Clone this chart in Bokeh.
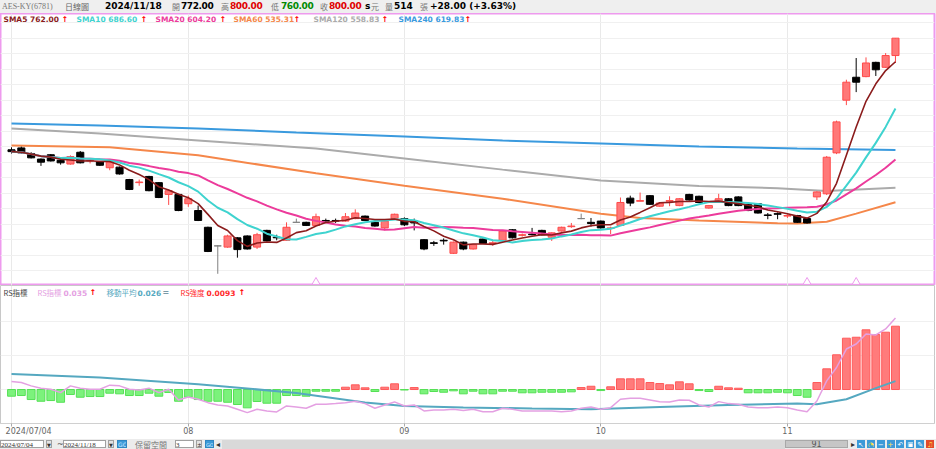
import numpy as np
import pandas as pd
from bokeh.plotting import figure
from bokeh.models import Range1d, FixedTicker, Grid, Label, Div, AllLabels
from bokeh.layouts import column
from bokeh.embed import file_html
from bokeh.resources import INLINE

# ---------------- data ----------------
STOCK = "AES-KY(6781)"
PERIOD_NAME = "日線圖"
FIRST_DATE = "2024/07/04"
LAST_DATE = "2024/11/18"
LAST_VOLUME = 514
BAR_COUNT_TEXT = "91"
MONTH_TICK_BARS = [18, 40, 60, 79]
MONTH_TICK_LABELS = ["08", "09", "10", "11"]

OPEN = [620, 623, 614, 605, 612, 603, 597, 616, 602, 601,
        591, 592, 572, 567, 577, 567, 548, 548, 533, 522,
        495, 465, 463, 478, 481, 463, 490, 479, 474, 503,
        503, 498, 506, 506, 505, 509, 513, 503, 494, 509,
        509, 505, 475, 470, 474, 453, 471, 460, 476, 469,
        474, 491, 482, 484, 490, 479, 489, 496, 509, 503,
        505, 493, 498, 542, 537, 546, 529, 537, 530, 548,
        545, 526, 536, 541, 544, 532, 533, 515, 517, 513,
        514, 509, 544, 549, 615, 700, 737, 738, 761, 753,
        772]
HIGH = [624, 625, 616, 606, 613, 606, 611, 618, 605, 602,
        601, 593, 573, 572, 578, 568, 556, 549, 546, 530,
        496, 466, 483, 479, 482, 486, 491, 483, 503, 509,
        504, 517, 509, 509, 518, 524, 514, 504, 506, 517,
        511, 509, 476, 473, 477, 472, 472, 468, 477, 473,
        490, 492, 485, 494, 491, 487, 496, 502, 517, 510,
        506, 496, 543, 546, 551, 547, 535, 545, 542, 549,
        546, 531, 549, 542, 545, 533, 534, 518, 519, 516,
        515, 510, 553, 610, 667, 733, 768, 769, 762, 776,
        800]
LOW = [614, 614, 606, 594, 601, 596, 596, 598, 598, 594,
       587, 580, 555, 562, 553, 542, 531, 521, 528, 505,
       455, 420, 462, 446, 459, 460, 472, 474, 473, 503,
       497, 497, 502, 502, 504, 508, 505, 496, 490, 508,
       497, 490, 458, 465, 467, 452, 458, 459, 468, 465,
       473, 477, 480, 482, 482, 473, 488, 494, 508, 496,
       493, 484, 497, 529, 537, 531, 528, 529, 529, 538,
       534, 525, 535, 529, 529, 521, 517, 508, 508, 510,
       502, 501, 539, 547, 613, 692, 713, 737, 739, 752,
       760]
CLOSE = [617, 615, 607, 600, 602, 599, 609, 599, 603, 595,
         600, 581, 556, 568, 554, 543, 554, 522, 541, 506,
         456, 465, 481, 459, 460, 483, 473, 478, 495, 503,
         498, 512, 505, 505, 512, 518, 506, 497, 505, 516,
         499, 502, 460, 469, 473, 471, 460, 467, 469, 470,
         489, 478, 483, 483, 483, 486, 495, 497, 509, 501,
         494, 494, 535, 534, 538, 532, 534, 538, 541, 539,
         535, 530, 541, 530, 530, 522, 518, 514, 516, 514,
         503, 502, 552, 608, 665, 729, 729, 760, 749, 772,
         800]

# long moving averages (bar index, value)
SMA60_BARS = [0, 10, 19, 31, 40, 50, 60, 64, 70, 78, 80, 83, 86, 90]
SMA60_VALS = [627.0, 624.0, 611.0, 582.0, 562.0, 541.0, 517.0, 510.0, 506.0, 501.6, 501.0, 504.0, 517.0, 535.31]
SMA120_BARS = [0, 9, 19, 31, 40, 50, 60, 70, 78, 83, 90]
SMA120_VALS = [654.4, 646.3, 635.0, 622.0, 606.0, 588.0, 570.5, 561.6, 558.0, 553.5, 558.83]
SMA240_BARS = [0, 9, 19, 29, 40, 50, 60, 70, 80, 90]
SMA240_VALS = [662.4, 659.2, 654.4, 647.9, 641.5, 635.0, 630.2, 625.3, 622.1, 619.83]

# relative strength panel
RS = [0.02594, 0.02579, 0.02531, 0.02497, 0.02482, 0.02432, 0.02531, 0.02497, 0.02482, 0.02482,
      0.02541, 0.02531, 0.02482, 0.02472, 0.02497, 0.02432, 0.02482, 0.02325, 0.02369, 0.02335,
      0.02285, 0.02252, 0.02237, 0.02188, 0.02139, 0.02188, 0.02164, 0.02149, 0.02237, 0.02222,
      0.02203, 0.02262, 0.02262, 0.02271, 0.02285, 0.02306, 0.02271, 0.02203, 0.02252, 0.02296,
      0.02237, 0.02252, 0.02164, 0.02178, 0.02178, 0.02188, 0.02170, 0.02188, 0.02153, 0.02153,
      0.02203, 0.02188, 0.02164, 0.02164, 0.02164, 0.02164, 0.02153, 0.02164, 0.02203, 0.02222,
      0.02188, 0.02212, 0.02335, 0.02350, 0.02350, 0.02325, 0.02300, 0.02296, 0.02325, 0.02321,
      0.02252, 0.02222, 0.02300, 0.02271, 0.02262, 0.02222, 0.02212, 0.02212, 0.02222, 0.02212,
      0.02178, 0.02153, 0.02310, 0.02604, 0.02800, 0.03070, 0.03144, 0.03291, 0.03276, 0.03364,
      0.03526]
RS_MA_BARS = [0, 9, 19, 29, 36, 40, 46, 53, 59, 66, 73, 80, 82, 85, 88, 90]
RS_MA_VALS = [0.02703, 0.02653, 0.02556, 0.02428, 0.02288, 0.02237, 0.02215, 0.02200, 0.02188,
              0.02222, 0.02252, 0.02271, 0.02263, 0.02335, 0.02497, 0.02600]
RS_HIST = [-0.00098, -0.00088, -0.00147, -0.00172, -0.00162, -0.00187, -0.00073, -0.00113, -0.00103, -0.00103,
           -0.00054, -0.00063, -0.00088, -0.00088, -0.00054, -0.00098, -0.00044, -0.00172, -0.00113, -0.00147,
           -0.00172, -0.00172, -0.00187, -0.00220, -0.00269, -0.00176, -0.00201, -0.00201, -0.00088, -0.00088,
           -0.00098, -0.00025, -0.00025, -0.00025, 0.00034, 0.00069, 0.00025, -0.00029, 0.00034, 0.00084,
           -0.00007, 0.00029, -0.00063, -0.00029, -0.00040, -0.00019, -0.00063, -0.00025, -0.00063, -0.00063,
           -0.00025, -0.00025, -0.00048, -0.00048, -0.00040, -0.00040, -0.00040, -0.00034, 0.00029, 0.00048,
           -0.00015, 0.00040, 0.00157, 0.00157, 0.00157, 0.00103, 0.00088, 0.00069, 0.00113, 0.00084,
           -0.00015, -0.00029, 0.00048, 0.00025, 0.00019, -0.00048, -0.00048, -0.00048, -0.00040, -0.00048,
           -0.00088, -0.00113, 0.00103, 0.00304, 0.00510, 0.00754, 0.00768, 0.00877, 0.00808, 0.00842,
           0.00930]
EVENT_BARS = [31, 81, 86]

# ---------------- derived ----------------
n = len(CLOSE)
idx = np.arange(n)
o = np.array(OPEN, float); h = np.array(HIGH, float); l = np.array(LOW, float); c = np.array(CLOSE, float)
cs = pd.Series(c)
sma5 = cs.rolling(5, min_periods=1).mean().values
sma10 = cs.rolling(10, min_periods=1).mean().values
sma20 = cs.rolling(20, min_periods=1).mean().values

UP_FILL, UP_LINE = "#ff7878", "#ff4a4a"
DN_FILL, DN_LINE = "#000000", "#000000"
FL_COL = "#808080"
body_fill = [UP_FILL if cc > oo else (DN_FILL if cc < oo else FL_COL) for oo, cc in zip(o, c)]
body_line = [UP_LINE if cc > oo else (DN_LINE if cc < oo else FL_COL) for oo, cc in zip(o, c)]

C_SMA5, C_SMA10, C_SMA20 = "#8b1c1c", "#3fd3cf", "#ec3b9b"
C_SMA60, C_SMA120, C_SMA240 = "#f5874a", "#ababab", "#3a9ade"
C_RS, C_MA, C_STR = "#e4a0e2", "#55a8c0", "#ff2a2a"

W = 936
YMIN, YMAX = 401.1, 839.8
XR = Range1d(-1.121, 93.974)
TICKS = [0] + MONTH_TICK_BARS

# ---------------- price panel ----------------
p = figure(width=W, height=272, x_range=XR, y_range=Range1d(YMIN, YMAX),
           x_axis_type=None, y_axis_type=None, output_backend="svg", toolbar_location=None,
           min_border=0, min_border_right=2, outline_line_color="#ee9aee", outline_line_width=2,
           background_fill_color="white", border_fill_color="white")
p.add_layout(Grid(dimension=0, ticker=FixedTicker(ticks=TICKS), grid_line_color="#e9e9e9"))
p.add_layout(Grid(dimension=1, ticker=FixedTicker(ticks=list(range(425, 826, 25))),
                  grid_line_color="#f0f0f0"))

p.line(SMA240_BARS, SMA240_VALS, line_color=C_SMA240, line_width=2)
p.line(SMA120_BARS, SMA120_VALS, line_color=C_SMA120, line_width=2)
p.line(SMA60_BARS, SMA60_VALS, line_color=C_SMA60, line_width=2)

p.segment(x0=idx, y0=l, x1=idx, y1=h, line_color=body_line, line_width=1)
p.vbar(x=idx, width=0.72, top=np.maximum(o, c), bottom=np.minimum(o, c),
       fill_color=body_fill, line_color=body_line, line_width=1)

p.line(idx, sma20, line_color=C_SMA20, line_width=2)
p.line(idx, sma10, line_color=C_SMA10, line_width=2)
p.line(idx, sma5, line_color=C_SMA5, line_width=1.6)

p.scatter(EVENT_BARS, [YMIN + 5.5] * len(EVENT_BARS), marker="triangle", size=8,
          fill_color="white", line_color="#ee9aee", line_width=1)

legend_items = [("SMA5", sma5[-1], C_SMA5, 3, 61),
                ("SMA10", sma10[-1], C_SMA10, 76, 140),
                ("SMA20", sma20[-1], C_SMA20, 155, 219),
                ("SMA60", SMA60_VALS[-1], C_SMA60, 233, 293),
                ("SMA120", SMA120_VALS[-1], C_SMA120, 313, 381),
                ("SMA240", SMA240_VALS[-1], C_SMA240, 398, 464)]
LY = 266.5
for name, val, col, x, ax in legend_items:
    p.add_layout(Label(x=x, y=LY, x_units="screen", y_units="screen", text=f"{name} {val:.2f}",
                       text_color=col, text_font="DejaVu Sans", text_font_style="bold",
                       text_font_size="7.5px", text_baseline="middle"))
    p.add_layout(Label(x=ax, y=LY, x_units="screen", y_units="screen", text="↑",
                       text_color="#ff0000", text_font="DejaVu Sans", text_font_style="bold",
                       text_font_size="8px", text_baseline="middle"))

# ---------------- RS panel ----------------
r = figure(width=W, height=153, x_range=XR, y_range=Range1d(0.01980, 0.04000),
           y_axis_type=None, x_axis_location="below", output_backend="svg", toolbar_location=None,
           min_border=0, min_border_right=2, outline_line_color="#c8c8c8", outline_line_width=1,
           background_fill_color="white", border_fill_color="white")
r.extra_y_ranges = {"hist": Range1d(-0.00499, 0.01528)}
ax = r.xaxis[0]
ax.ticker = FixedTicker(ticks=TICKS)
# first label sits to the right of its tick (as in the reference): leading no-break spaces
ax.major_label_overrides = {0: "\u00a0" * 2 + FIRST_DATE,
                            **{t: s for t, s in zip(MONTH_TICK_BARS, MONTH_TICK_LABELS)}}
ax.major_label_policy = AllLabels()
ax.minor_tick_line_color = None
ax.major_tick_in = 0
ax.major_tick_out = 3
ax.major_tick_line_color = "#aaaaaa"
ax.axis_line_color = "#d0d0d0"
ax.major_label_standoff = 0
ax.major_label_text_font = "DejaVu Sans"
ax.major_label_text_font_size = "8px"
ax.major_label_text_color = "#666666"
r.xgrid.ticker = FixedTicker(ticks=TICKS)
r.xgrid.grid_line_color = "#e9e9e9"
r.add_layout(Grid(dimension=1, ticker=FixedTicker(ticks=[0, 0.005, 0.01]), y_range_name="hist",
                  grid_line_color="#f0f0f0"))

hist = np.array(RS_HIST)
h_fill = ["#ff7b7b" if v > 0 else "#7cf27c" for v in hist]
h_line = ["#ff5a5a" if v > 0 else "#55e055" for v in hist]
r.vbar(x=idx, width=0.8, top=hist, bottom=0, y_range_name="hist",
       fill_color=h_fill, line_color=h_line, line_width=1)
r.line(RS_MA_BARS, RS_MA_VALS, line_color=C_MA, line_width=2)
r.line(idx, RS, line_color=C_RS, line_width=1.5)

RY = 131
rs_items = [("RS指標", "#444444", "normal", "Noto Sans CJK TC", "7.5px", 3),
            ("RS指標", C_RS, "normal", "Noto Sans CJK TC", "7.5px", 37),
            (f"{RS[-1]:.3f}", C_RS, "bold", "DejaVu Sans", "7.5px", 63),
            ("↑", "#ff0000", "bold", "DejaVu Sans", "8px", 89),
            ("移動平均", C_MA, "normal", "Noto Sans CJK TC", "7.5px", 106),
            (f"{RS_MA_VALS[-1]:.3f}", C_MA, "bold", "DejaVu Sans", "7.5px", 137),
            ("=", "#7a9aa8", "bold", "DejaVu Sans", "8px", 162),
            ("RS強度", C_STR, "normal", "Noto Sans CJK TC", "7.5px", 180),
            (f"{RS_HIST[-1]:.4f}", C_STR, "bold", "DejaVu Sans", "7.5px", 206),
            ("↑", "#ff0000", "bold", "DejaVu Sans", "8px", 238)]
for txt_, col, sty, fnt, fs, x in rs_items:
    r.add_layout(Label(x=x, y=RY, x_units="screen", y_units="screen", text=txt_, text_color=col,
                       text_font=fnt, text_font_style=sty, text_font_size=fs, text_baseline="middle"))

# ---------------- header ----------------
def span(x, text, color="#000", bold=False, font="DejaVu Sans", size=9, ls=0):
    w = "bold" if bold else "normal"
    return (f'<span style="position:absolute;left:{x}px;top:0px;line-height:13px;white-space:nowrap;'
            f'letter-spacing:{ls}px;font-family:\'{font}\';font-size:{size}px;color:{color};'
            f'font-weight:{w};">{text}</span>')

chg = c[-1] - c[-2]
pct = chg / c[-2] * 100
CJK = "Noto Sans CJK TC"
head_parts = [
    span(2, STOCK, "#777", False, "Liberation Serif", 8),
    span(65, PERIOD_NAME, "#666", False, CJK, 8),
    span(105, LAST_DATE, "#000", True),
    span(172, "開", "#777", False, CJK, 8), span(181, f"{o[-1]:.2f}", "#000", True, ls=-0.4),
    span(221, "高", "#777", False, CJK, 8), span(230, f"{h[-1]:.2f}", "#e00000", True, ls=-0.4),
    span(271, "低", "#777", False, CJK, 8), span(281, f"{l[-1]:.2f}", "#008a00", True, ls=-0.4),
    span(320, "收", "#777", False, CJK, 8), span(329, f"{c[-1]:.2f}", "#e00000", True, ls=-0.4),
    span(365, "s", "#000", True), span(371, "元", "#777", False, CJK, 8),
    span(385, "量", "#777", False, CJK, 8), span(394, f"{LAST_VOLUME}", "#000", True),
    span(420, "張", "#777", False, CJK, 8),
    span(430, f"{chg:+.2f} ({pct:+.2f}%)", "#000", True),
]
header = Div(text=f'<div style="position:relative;width:{W}px;height:13px;background:#efefef;overflow:hidden;">'
             + "".join(head_parts) + "</div>", width=W, height=13, margin=(0, 0, 0, 0))

# ---------------- footer ----------------
def box(x, w, text="", bg="#fff", border="#a0a0a0", color="#333", font="DejaVu Sans", size=7, align="left"):
    return (f'<div style="position:absolute;left:{x}px;top:1px;width:{w}px;height:8px;background:{bg};'
            f'border:1px solid {border};font-family:\'{font}\';font-size:{size}px;line-height:8px;'
            f'color:{color};text-align:{align};white-space:nowrap;overflow:hidden;">{text}</div>')

def txt(x, text, color="#666", font="DejaVu Sans", size=8):
    return (f'<div style="position:absolute;left:{x}px;top:0px;font-family:\'{font}\';font-size:{size}px;'
            f'line-height:11px;color:{color};white-space:nowrap;">{text}</div>')

foot_parts = [
    box(0, 44, FIRST_DATE, font="Liberation Serif"),
    box(46, 6, "▼", bg="#e2e2e2", size=5, align="center"),
    txt(57, "~", "#555"),
    box(63, 43, LAST_DATE, font="Liberation Serif"),
    box(108, 6, "▼", bg="#e2e2e2", size=5, align="center"),
    box(117, 10, "GO", bg="#3c9ad8", border="#2f86c2", color="#cfe8ff", size=6, align="center"),
    txt(135, "保留空間", "#777", CJK, 8),
    box(175, 19, "3", font="Liberation Serif"),
    box(196, 6, "±", bg="#e2e2e2", size=6, align="center"),
    box(205, 9, "GO", bg="#3c9ad8", border="#2f86c2", color="#cfe8ff", size=5, align="center"),
    txt(216, "◂", "#333", size=8),
    '<div style="position:absolute;left:222px;top:1px;width:563px;height:10px;background:#d9d9d9;"></div>',
    box(785, 63, BAR_COUNT_TEXT, bg="#c6c6c6", border="#a8a8a8", color="#555", size=8, align="center"),
    txt(851, "▸", "#333", size=8),
]
icons = ["↖", "◔", "−", "+", "↶", "▣", "✎", "♫"]
for k, g in enumerate(icons):
    bg = "#e24a2a" if k == len(icons) - 1 else "#3c9ad8"
    col = "#ffe14a" if k in (1, 3, 7) else "#ffffff"
    foot_parts.append(box(round(857 + k * 9.85, 1), 8, g, bg=bg, border=bg, color=col, size=7, align="center"))
footer = Div(text=f'<div style="position:relative;width:{W}px;height:11px;background:#ececec;overflow:hidden;">'
             + "".join(foot_parts) + "</div>", width=W, height=11, margin=(0, 0, 0, 0))

layout = column(header, p, r, footer, spacing=0)
open("out.html", "w").write(file_html(layout, INLINE))
